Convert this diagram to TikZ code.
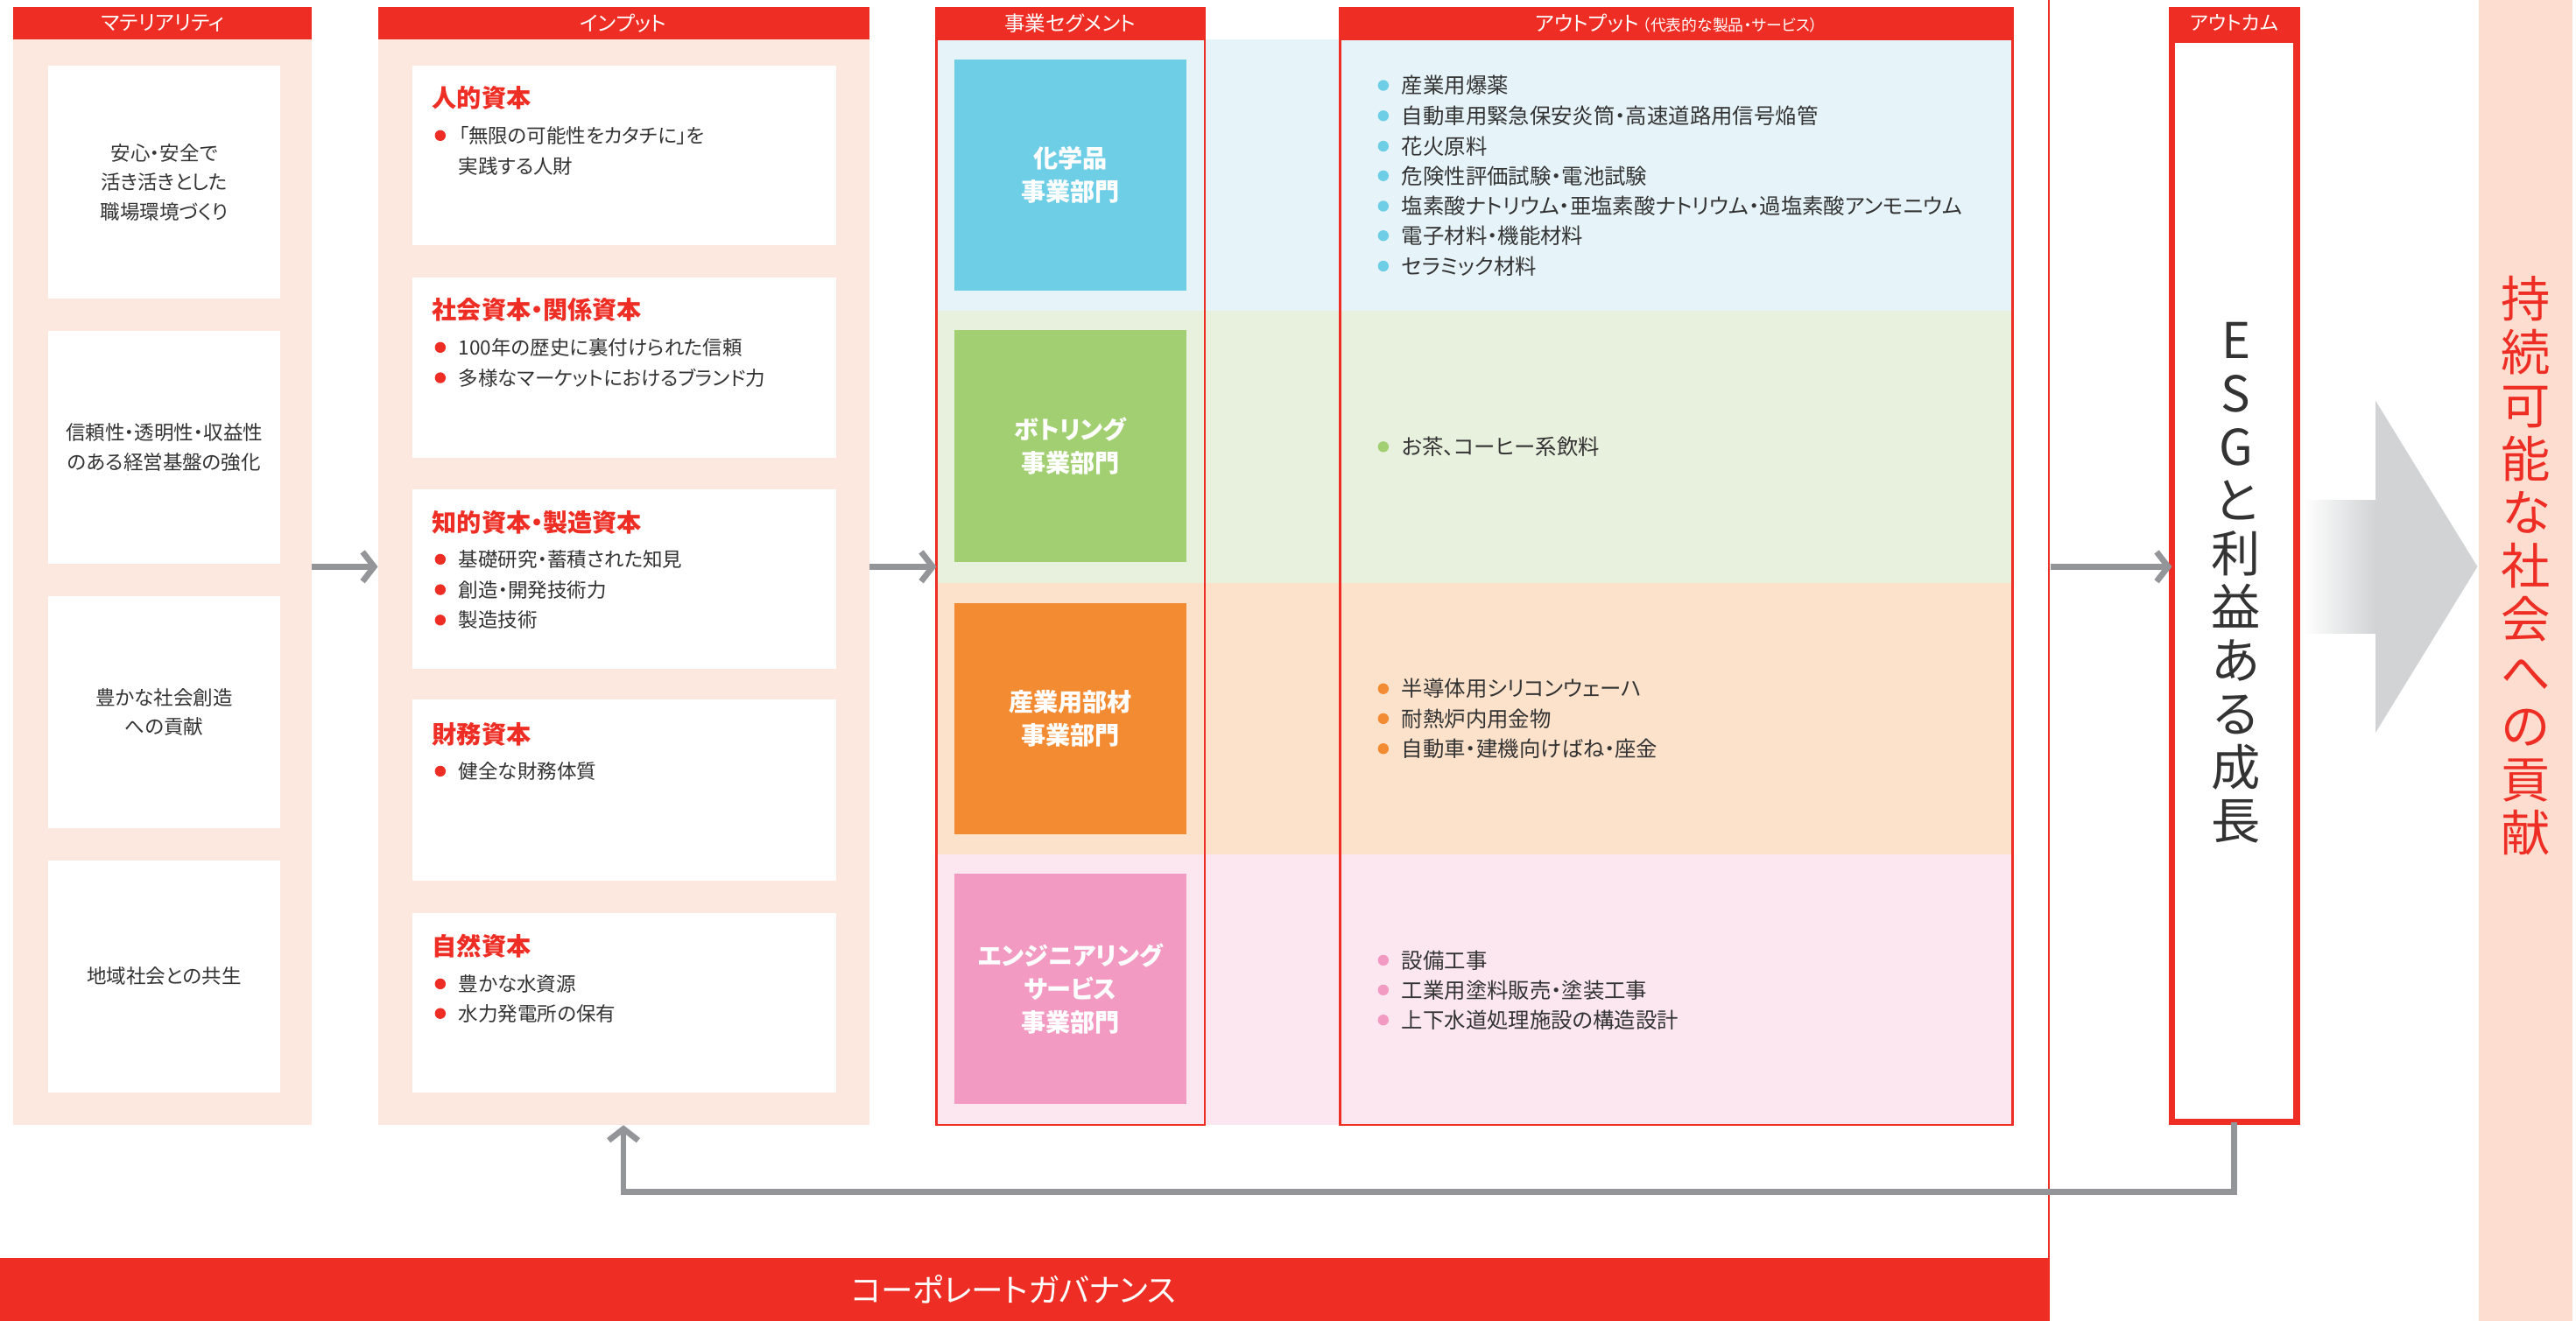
\documentclass[tikz,border=0pt]{standalone}
\usepackage{fontspec}
\setmainfont{Noto Sans CJK JP}[RawFeature=+palt]
\usetikzlibrary{arrows.meta}
\definecolor{hdr}{HTML}{EE2E24}
\definecolor{panel}{HTML}{FCE8DF}
\definecolor{rcol}{HTML}{FCDDCF}
\definecolor{cblue}{HTML}{6ECEE6}
\definecolor{cgreen}{HTML}{A2CF71}
\definecolor{corange}{HTML}{F38B33}
\definecolor{cpink}{HTML}{F29AC2}
\definecolor{bblue}{HTML}{E6F4F9}
\definecolor{bgreen}{HTML}{E8F1DE}
\definecolor{borange}{HTML}{FDE2CB}
\definecolor{bpink}{HTML}{FCE7F0}
\definecolor{agray}{HTML}{939598}
\definecolor{biggray}{HTML}{D1D3D4}
\definecolor{txt}{HTML}{333333}
\newcommand{\bitem}[6]{%
  \fill[#4] (#2,#3) circle[radius=3.3pt];
  \node[#5] (#1) at (#2+11,#3) {#6};}
\begin{document}
\begin{tikzpicture}[x=1pt,y=-1pt,
  box/.style={inner sep=0pt, outer sep=0pt, anchor=north west},
  hdrbox/.style={box, fill=hdr, text=white, font=\fontsize{12.5}{13}\selectfont},
  panelbox/.style={box, fill=panel},
  wbox/.style={box, fill=white, align=center, text=txt, font=\fontsize{12}{18}\selectfont},
  segbox/.style={box, align=center, text=white, font=\bfseries\fontsize{15}{20}\selectfont},
  frame/.style={box, draw=hdr, line width=1.3pt},
  ttl/.style={anchor=west, inner sep=0pt, text=hdr, font=\bfseries\fontsize{15}{15}\selectfont},
  itxt/.style={anchor=west, inner sep=0pt, text=txt, font=\fontsize{12}{12}\selectfont},
  otxt/.style={anchor=west, inner sep=0pt, text=txt, font=\fontsize{13}{13}\selectfont},
  vtext/.style={align=center, inner sep=0pt, font=\fontsize{30}{32.5}\selectfont},
  flow/.style={draw=agray, line width=3.6pt, -{Straight Barb[length=7pt,width=18pt]}}
]
\useasboundingbox (0,0) rectangle (1568,804);

% right column
\node[box, fill=rcol, minimum width=57pt, minimum height=804pt] (rcolumn) at (1509,0) {};
\node[vtext, text=hdr] (goal) at (1537.5,344.5) {持\\続\\可\\能\\な\\社\\会\\へ\\の\\貢\\献};

% big arrow
\shade[left color=white, right color=biggray] (1402,304.5) rectangle (1446.5,385.5);
\fill[biggray] (1446,244) -- (1508,345) -- (1446,446) -- cycle;

% materiality
\node[hdrbox, minimum width=182pt, minimum height=19.5pt] (mathdr) at (8,4.5) {マテリアリティ};
\node[panelbox, minimum width=182pt, minimum height=661pt] (matbody) at (8,24) {};
\node[wbox, minimum width=141pt, minimum height=142pt] (m1) at (29.5,40) {安心・安全で\\活き活きとした\\職場環境づくり};
\node[wbox, minimum width=141pt, minimum height=141.5pt] (m2) at (29.5,201.5) {信頼性・透明性・収益性\\のある経営基盤の強化};
\node[wbox, minimum width=141pt, minimum height=141pt] (m3) at (29.5,363) {豊かな社会創造\\への貢献};
\node[wbox, minimum width=141pt, minimum height=141pt] (m4) at (29.5,524) {地域社会との共生};

% input
\node[hdrbox, minimum width=299pt, minimum height=19.5pt] (inhdr) at (230,4.5) {インプット};
\node[panelbox, minimum width=299pt, minimum height=661pt] (inbody) at (230,24) {};
\node[wbox, minimum width=258pt, minimum height=109pt] (i1) at (251,40) {};
\node[wbox, minimum width=258pt, minimum height=109.5pt] (i2) at (251,169) {};
\node[wbox, minimum width=258pt, minimum height=109pt] (i3) at (251,298) {};
\node[wbox, minimum width=258pt, minimum height=110pt] (i4) at (251,426) {};
\node[wbox, minimum width=258pt, minimum height=109pt] (i5) at (251,556) {};

\node[ttl] (t1) at (263,59.5) {人的資本};
\bitem{i1a}{268}{82.5}{hdr}{itxt}{「無限の可能性をカタチに」を}
\node[itxt] (i1b) at (279,101) {実践する人財};
\node[ttl] (t2) at (263,188.5) {社会資本・関係資本};
\bitem{i2a}{268}{211.5}{hdr}{itxt}{100年の歴史に裏付けられた信頼}
\bitem{i2b}{268}{230}{hdr}{itxt}{多様なマーケットにおけるブランド力}
\node[ttl] (t3) at (263,318) {知的資本・製造資本};
\bitem{i3a}{268}{340.5}{hdr}{itxt}{基礎研究・蓄積された知見}
\bitem{i3b}{268}{359}{hdr}{itxt}{創造・開発技術力}
\bitem{i3c}{268}{377.5}{hdr}{itxt}{製造技術}
\node[ttl] (t4) at (263,447) {財務資本};
\bitem{i4a}{268}{469.5}{hdr}{itxt}{健全な財務体質}
\node[ttl] (t5) at (263,576) {自然資本};
\bitem{i5a}{268}{599}{hdr}{itxt}{豊かな水資源}
\bitem{i5b}{268}{617}{hdr}{itxt}{水力発電所の保有}

% bands
\node[box, fill=bblue, minimum width=657pt, minimum height=165pt] (bandb) at (569,24) {};
\node[box, fill=bgreen, minimum width=657pt, minimum height=166pt] (bandg) at (569,189) {};
\node[box, fill=borange, minimum width=657pt, minimum height=165pt] (bando) at (569,355) {};
\node[box, fill=bpink, minimum width=657pt, minimum height=165pt] (bandp) at (569,520) {};

% segments
\node[hdrbox, minimum width=165pt, minimum height=19.5pt] (seghdr) at (569,4.5) {事業セグメント};
\node[segbox, fill=cblue, minimum width=141pt, minimum height=141pt] (s1) at (581,36) {化学品\\事業部門};
\node[segbox, fill=cgreen, minimum width=141pt, minimum height=141pt] (s2) at (581,201) {ボトリング\\事業部門};
\node[segbox, fill=corange, minimum width=141pt, minimum height=141pt] (s3) at (581,367) {産業用部材\\事業部門};
\node[segbox, fill=cpink, minimum width=141pt, minimum height=140pt] (s4) at (581,532) {エンジニアリング\\サービス\\事業部門};
\node[frame, minimum width=163.5pt, minimum height=661pt] (segframe) at (570,24) {};

% outputs
\node[hdrbox, minimum width=411pt, minimum height=19.5pt] (outhdr) at (815,4.5) {アウトプット\,{\fontsize{9.5}{10}\selectfont （代表的な製品・サービス）}};
\node[frame, minimum width=409.5pt, minimum height=661pt] (outframe) at (815.6,24) {};
\bitem{o1}{842}{52}{cblue}{otxt}{産業用爆薬}
\bitem{o2}{842}{70.5}{cblue}{otxt}{自動車用緊急保安炎筒・高速道路用信号焔管}
\bitem{o3}{842}{89}{cblue}{otxt}{花火原料}
\bitem{o4}{842}{107}{cblue}{otxt}{危険性評価試験・電池試験}
\bitem{o5}{842}{125.5}{cblue}{otxt}{塩素酸ナトリウム・亜塩素酸ナトリウム・過塩素酸アンモニウム}
\bitem{o6}{842}{143.5}{cblue}{otxt}{電子材料・機能材料}
\bitem{o7}{842}{162}{cblue}{otxt}{セラミック材料}
\bitem{o8}{842}{272}{cgreen}{otxt}{お茶、コーヒー系飲料}
\bitem{o9}{842}{419.3}{corange}{otxt}{半導体用シリコンウェーハ}
\bitem{o10}{842}{437.5}{corange}{otxt}{耐熱炉内用金物}
\bitem{o11}{842}{455.8}{corange}{otxt}{自動車・建機向けばね・座金}
\bitem{o12}{842}{584.6}{cpink}{otxt}{設備工事}
\bitem{o13}{842}{602.7}{cpink}{otxt}{工業用塗料販売・塗装工事}
\bitem{o14}{842}{621}{cpink}{otxt}{上下水道処理施設の構造設計}

% governance line and bar
\draw[hdr, line width=1.3pt] (1247,0) -- (1247,766);
\node[box, fill=hdr, minimum width=1247.6pt, minimum height=38pt] (gov) at (0,766) {};
\node[text=white, inner sep=0pt, font=\fontsize{19.5}{20}\selectfont] (govtext) at (617,785) {コーポレートガバナンス};

% outcome
\node[hdrbox, minimum width=80pt, minimum height=20pt, font=\fontsize{12}{12}\selectfont] (ochdr) at (1320,4) {アウトカム};
\node[box, draw=hdr, fill=white, line width=4pt, minimum width=76pt, minimum height=659pt] (ocbody) at (1322,24) {};
\node[vtext, text=txt] (esg) at (1361,355) {E\\S\\G\\と\\利\\益\\あ\\る\\成\\長};

% connectors
\coordinate (ay) at (0,345);
\coordinate (rl) at (1248,345);
\coordinate (fb) at (1360,725.5);
\draw[flow] (matbody.east |- ay) -- (inbody.west |- ay);
\draw[flow] (inbody.east |- ay) -- (segframe.west |- ay);
\draw[flow] (rl) -- (ocbody.west |- ay);
\draw[flow] (ocbody.south) -- (fb) -| (inbody.south);
\end{tikzpicture}
\end{document}
